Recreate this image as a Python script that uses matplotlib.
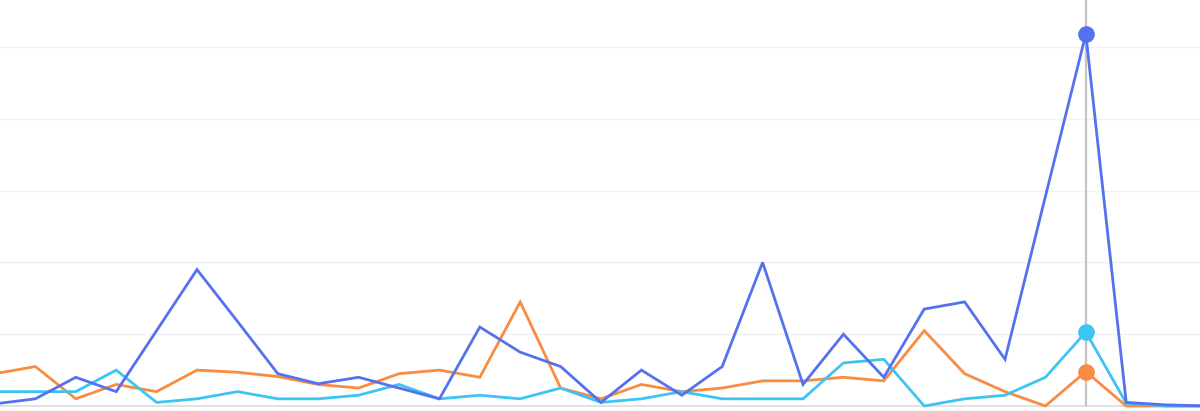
import matplotlib
matplotlib.use("Agg")
import matplotlib.pyplot as plt

# x index of each point
idx = list(range(31))

series_blue = [0.3, 1.0, 4.0, 2.0, 10.5, 19.0, 11.8, 4.5, 3.1, 4.0, 2.5, 1.0, 11.0, 7.5,
               5.5, 0.5, 5.0, 1.5, 5.5, 20.0, 3.0, 10.0, 4.0, 13.5, 14.5, 6.5, 29.2, 51.8,
               0.5, 0.15, 0.0]
series_orange = [4.5, 5.5, 1.0, 3.0, 2.0, 5.0, 4.7, 4.1, 3.0, 2.5, 4.5, 5.0, 4.0, 14.5,
                 2.5, 1.0, 3.0, 2.0, 2.5, 3.5, 3.5, 4.0, 3.5, 10.5, 4.5, 2.0, 0.0, 4.8,
                 0.0, 0.0, 0.0]
series_cyan = [2.0, 2.0, 2.0, 5.0, 0.5, 1.0, 2.0, 1.0, 1.0, 1.5, 3.0, 1.0, 1.5, 1.0,
               2.5, 0.5, 1.0, 2.0, 1.0, 1.0, 1.0, 6.0, 6.5, 0.0, 1.0, 1.5, 4.0, 10.3,
               0.4, 0.0, 0.0]
highlight = 27
grid_values = [10, 20, 30, 40, 50]

c_blue = "#5572EE"
c_cyan = "#3DC4F4"
c_orange = "#F98B42"

fig = plt.figure(figsize=(12, 4.11), dpi=100)
ax = fig.add_axes([0, 0, 1, 1])
ax.set_xlim(0.124, 29.826)
ax.set_ylim(-0.696, 56.55)
ax.axis("off")

for g in grid_values:
    ax.axhline(g, color="#EFF1F4", lw=1.0, zorder=0)
ax.axhline(0, color="#DADCE0", lw=1.2, zorder=1)
ax.vlines(highlight, 0, 60, color="#C4C4C4", lw=1.6, zorder=1)

for data, col in [(series_orange, c_orange), (series_cyan, c_cyan), (series_blue, c_blue)]:
    ax.plot(idx, data, color=col, lw=2.0, solid_joinstyle="miter", zorder=3)
    ax.plot([highlight], [data[highlight]], "o", color=col, ms=12, mec="white", mew=0, zorder=4)

fig.savefig("out.png", dpi=100)
